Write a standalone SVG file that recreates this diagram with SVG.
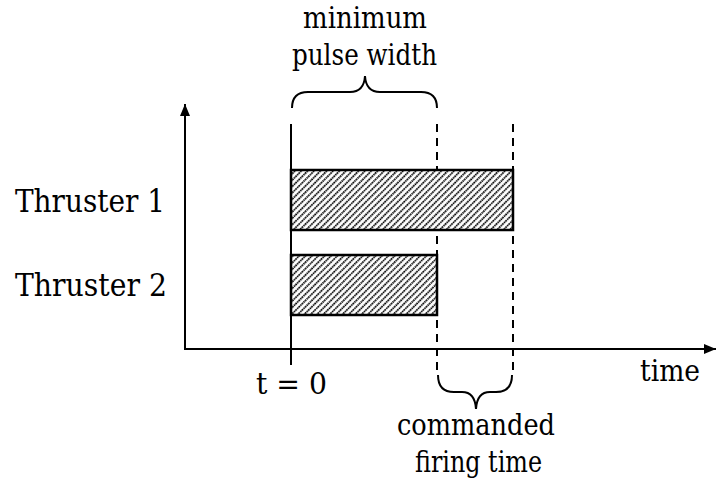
<svg xmlns="http://www.w3.org/2000/svg" width="716" height="482" viewBox="0 0 716 482">
<style>
text{font-family:'DejaVu Serif',serif;fill:#000}
.lbl{font-size:29px}
.big{font-size:32px}
.ax{stroke:#000;stroke-width:2;fill:none}
.dash{stroke:#000;stroke-width:2;stroke-dasharray:8,6;fill:none}
.brace{stroke:#000;stroke-width:2;fill:none}
.bar{fill:url(#hatch);stroke:#000;stroke-width:2.5}
</style>
<defs>
<pattern id="hatch" patternUnits="userSpaceOnUse" width="4.5" height="4.5" patternTransform="rotate(45)">
<rect width="4.5" height="4.5" fill="#fff"/>
<line x1="1" y1="0" x2="1" y2="4.5" stroke="#000" stroke-width="1.8" stroke-dasharray="1.5,0.75"/>
</pattern>
<marker id="arr" markerWidth="12" markerHeight="10" refX="12" refY="5" orient="auto" markerUnits="userSpaceOnUse">
<path d="M0,0 L12,5 L0,10 Z" fill="#000"/>
</marker>
</defs>
<g id="connectors">
<line class="ax" x1="185" y1="350" x2="185" y2="104" marker-end="url(#arr)"/>
<line class="ax" x1="184" y1="349" x2="716" y2="349" marker-end="url(#arr)"/>
<line class="ax" x1="291" y1="124" x2="291" y2="365"/>
<line class="dash" x1="437" y1="124" x2="437" y2="376"/>
<line class="dash" x1="513" y1="124" x2="513" y2="376"/>
<path class="brace" d="M292,108 Q292,92 308,92 L350,92 Q364,92 365,76 Q366,92 380,92 L421,92 Q437,92 437,108"/>
<path class="brace" d="M438,375 Q438,392 454,392 L462,392 Q475,392 476,409 Q477,392 490,392 L496,392 Q512,392 512,375"/>
</g>
<g id="thruster1">
<rect class="bar" x="291" y="170" width="222" height="60"/>
<text class="big" x="15" y="212" textLength="150" lengthAdjust="spacingAndGlyphs">Thruster 1</text>
</g>
<g id="thruster2">
<rect class="bar" x="291" y="255" width="146" height="60"/>
<text class="big" x="15" y="296" textLength="152" lengthAdjust="spacingAndGlyphs">Thruster 2</text>
</g>
<g id="labels">
<text class="lbl" x="303" y="28" textLength="124" lengthAdjust="spacingAndGlyphs">minimum</text>
<text class="lbl" x="292" y="65" textLength="145" lengthAdjust="spacingAndGlyphs">pulse width</text>
<text class="lbl" x="256" y="394" textLength="71" lengthAdjust="spacingAndGlyphs">t = 0</text>
<text class="lbl" x="640" y="381" textLength="60" lengthAdjust="spacingAndGlyphs">time</text>
<text class="lbl" x="397" y="435" textLength="158" lengthAdjust="spacingAndGlyphs">commanded</text>
<text class="lbl" x="415" y="472" textLength="127" lengthAdjust="spacingAndGlyphs">firing time</text>
</g>
</svg>
